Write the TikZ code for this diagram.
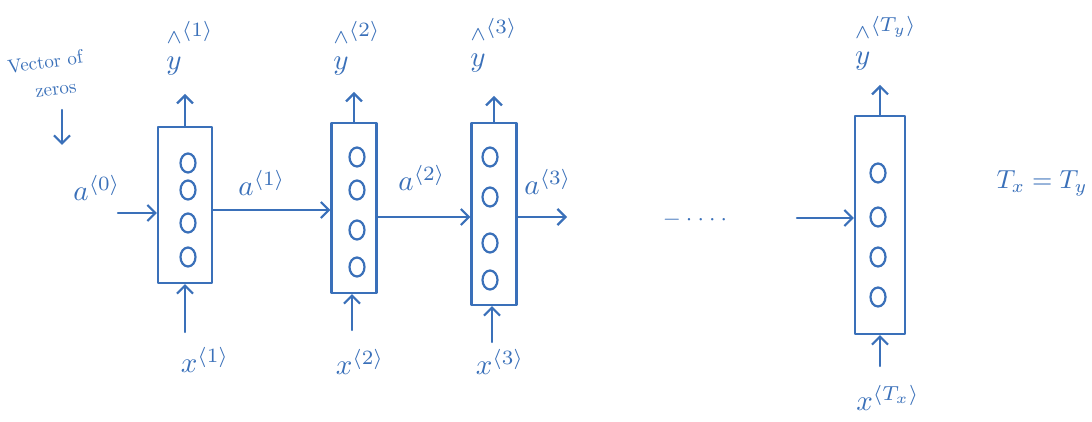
\documentclass[tikz,border=0pt]{standalone}
\usetikzlibrary{arrows.meta,shapes.geometric}
\definecolor{pen}{RGB}{58,112,185}
\newcommand{\yh}{\stackrel{\wedge}{\vphantom{T}y}}
\tikzset{
  ink/.style={draw=pen,line width=2.2pt,line cap=round,line join=round},
  cell/.style={ink,rectangle,inner sep=0pt},
  unit/.style={ink,ellipse,inner sep=0pt,minimum width=15pt,minimum height=19pt},
  arr/.style={ink,-{Straight Barb[length=8pt,width=16pt,line width=2.2pt]}},
  lbl/.style={text=pen,scale=2.9,inner sep=0.5pt},
  small/.style={text=pen,scale=1.9,inner sep=0.5pt}
}
\begin{document}
\begin{tikzpicture}[x=1pt,y=-1pt]
\useasboundingbox (0,0) rectangle (1092,422);
% cells
\node[cell,minimum width=54pt,minimum height=156pt] (b1) at (185,205) {};
\node[cell,minimum width=45pt,minimum height=170pt] (b2) at (354,208) {};
\node[cell,minimum width=45pt,minimum height=182pt] (b3) at (494,214) {};
\node[cell,minimum width=50pt,minimum height=218pt] (b4) at (880,225) {};
% units
\foreach \y [count=\i] in {163,190,223,257} \node[unit] (u1\i) at (188,\y) {};
\foreach \y [count=\i] in {157,190,230,267} \node[unit] (u2\i) at (357,\y) {};
\foreach \y [count=\i] in {157,197,243,280} \node[unit] (u3\i) at (490,\y) {};
\foreach \y [count=\i] in {173,217,257,297} \node[unit] (u4\i) at (878,\y) {};
% output labels
\node[lbl] (y1) at (190,48) {$\yh^{\langle 1\rangle}$};
\node[lbl] (y2) at (357,48) {$\yh^{\langle 2\rangle}$};
\node[lbl] (y3) at (494,45) {$\yh^{\langle 3\rangle}$};
\node[lbl] (y4) at (886,43) {$\yh^{\langle T_y\rangle}$};
% input labels
\node[lbl] (x1) at (205,360) {$x^{\langle 1\rangle}$};
\node[lbl] (x2) at (360,362) {$x^{\langle 2\rangle}$};
\node[lbl] (x3) at (500,362) {$x^{\langle 3\rangle}$};
\node[lbl] (x4) at (888,398) {$x^{\langle T_x\rangle}$};
% activation labels
\node[lbl] (a0) at (97,188) {$a^{\langle 0\rangle}$};
\node[lbl] (a1) at (262,183) {$a^{\langle 1\rangle}$};
\node[lbl] (a2) at (422,178) {$a^{\langle 2\rangle}$};
\node[lbl] (a3) at (548,182) {$a^{\langle 3\rangle}$};
\node[lbl,scale=0.9] (eq) at (1042,183) {$T_x = T_y$};
\node[lbl,scale=0.8] (dots) at (695,220) {$-\cdot\cdot\cdot\cdot$};
\node[small,rotate=8] (vz1) at (45,62) {Vector of};
\node[small,rotate=8] (vz2) at (56,91) {zeros};
% vertical arrows
\draw[arr] (b1.north) -- ++(0,-32);
\draw[arr] (b2.north) -- ++(0,-30);
\draw[arr] (b3.north) -- ++(0,-26);
\draw[arr] (b4.north) -- ++(0,-30);
\coordinate (in1) at (185,332);
\coordinate (in2) at (352,330);
\coordinate (in3) at (492,342);
\coordinate (in4) at (880,366);
\draw[arr] (in1) -- (in1 |- b1.south);
\draw[arr] (in2) -- (in2 |- b2.south);
\draw[arr] (in3) -- (in3 |- b3.south);
\draw[arr] (in4) -- (in4 |- b4.south);
% vector of zeros arrow
\coordinate (vzend) at (62,145);
\draw[arr] (62,110) -- (vzend);
% horizontal arrows
\coordinate (h0) at (118,213);
\coordinate (h1) at (0,210);
\coordinate (h2) at (0,217);
\coordinate (h3) at (567,217);
\coordinate (h4) at (797,218);
\draw[arr] (h0) -- (b1.west |- h0);
\draw[arr] (b1.east |- h1) -- (b2.west |- h1);
\draw[arr] (b2.east |- h2) -- (b3.west |- h2);
\draw[arr] (b3.east |- h3) -- (h3);
\draw[arr] (h4) -- (b4.west |- h4);
\end{tikzpicture}
\end{document}
